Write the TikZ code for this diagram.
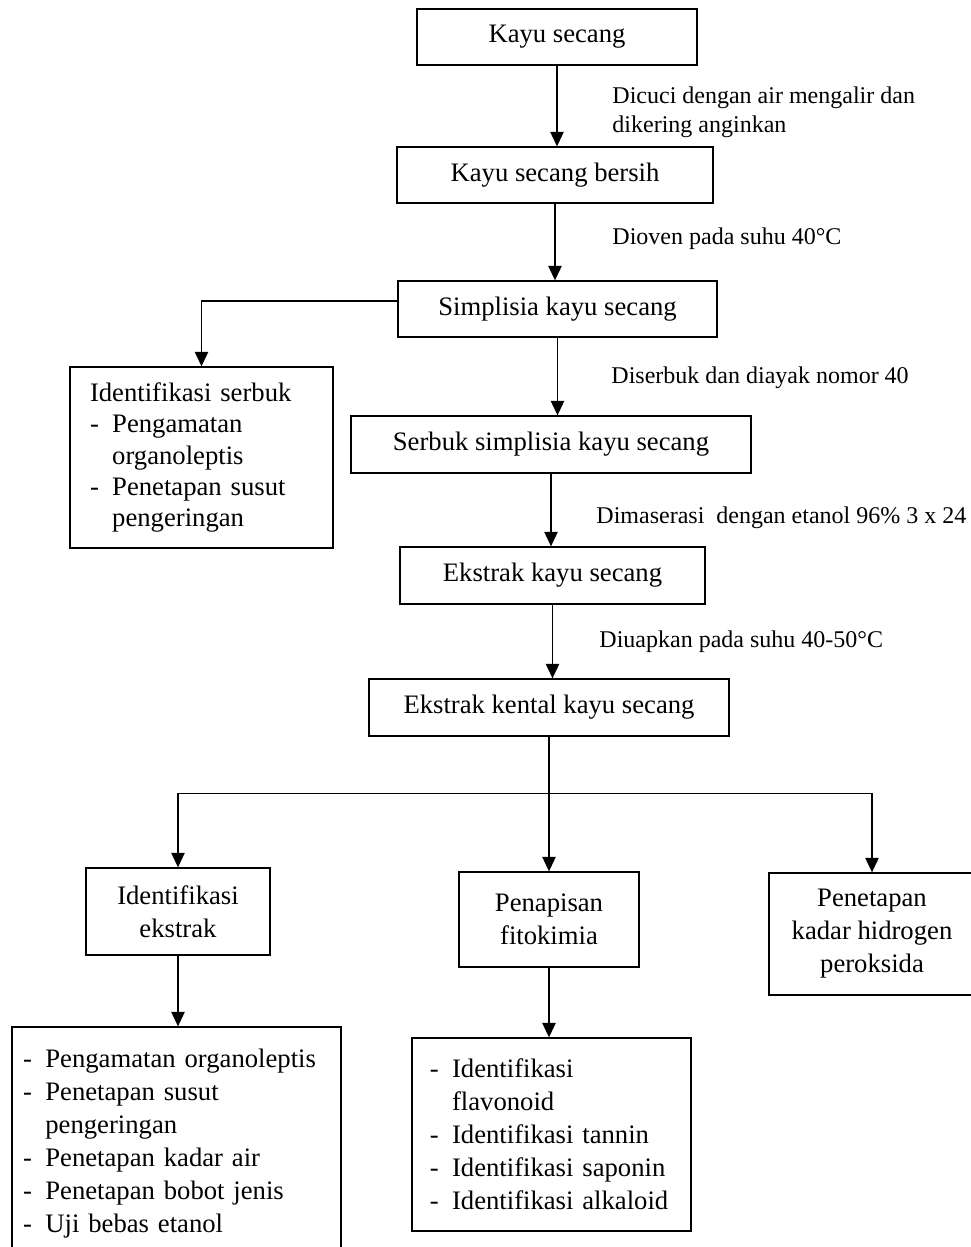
\documentclass[tikz,border=0pt]{standalone}
\usepackage{fontspec}
\setmainfont{Liberation Serif}
\usetikzlibrary{arrows.meta}
\def\dashitem#1{\makebox[10pt][l]{-}#1}
\def\dashcont#1{\hspace*{10pt}#1}

\begin{document}
\begin{tikzpicture}[x=0.45pt, y=-0.45pt,
		box/.style={draw, line width=0.6pt, align=center, inner sep=2pt, font=\fontsize{12}{14.85}\selectfont},
		listbox/.style={box, align=left},
		lbl/.style={anchor=west, align=left, inner sep=0pt, font=\fontsize{10.8}{13}\selectfont},
		link/.style={line width=0.6pt},
		arr/.style={link, -{Triangle[length=6.5pt, width=6pt]}}]
			%%%%% START %%%%%
			
			\useasboundingbox (0,0) rectangle (970,1247);
			
			\node[box, minimum width=126pt, minimum height=25.2pt] (kayu) at (557,37) {Kayu secang};
			\node[box, minimum width=142.2pt, minimum height=25.2pt] (bersih) at (555,175) {Kayu secang bersih};
			\node[box, minimum width=143.55pt, minimum height=25.2pt] (simplisia) at (557.5,309) {Simplisia kayu secang};
			\node[listbox, text width=100.35pt, inner xsep=9pt, minimum height=81.45pt, font=\fontsize{12}{14}\selectfont] (idserbuk) at (201.5,457.5) {Identifikasi serbuk\\ \dashitem{Pengamatan}\\ \dashcont{organoleptis}\\ \dashitem{Penetapan susut}\\ \dashcont{pengeringan}};
			\node[box, minimum width=180pt, minimum height=25.65pt] (serbuk) at (551,444.5) {Serbuk simplisia kayu secang};
			\node[box, minimum width=137.25pt, minimum height=25.65pt] (ekstrak) at (552.5,575.5) {Ekstrak kayu secang};
			\node[box, minimum width=162pt, minimum height=25.65pt] (kental) at (549,707.5) {Ekstrak kental kayu secang};
			
			\node[box, minimum width=82.8pt, minimum height=39.15pt] (idekstrak) at (178,911.5) {Identifikasi\\ekstrak};
			\node[box, minimum width=81pt, minimum height=42.75pt] (penapisan) at (549,919.5) {Penapisan\\fitokimia};
			\node[box, minimum width=92.7pt, minimum height=54.9pt] (penetapan) at (872,934) {Penetapan\\kadar hidrogen\\peroksida};
			
			\node[listbox, text width=138pt, inner xsep=5pt, minimum height=104.85pt] (ujiekstrak) at (176.5,1143.5) {\dashitem{Pengamatan organoleptis}\\ \dashitem{Penetapan susut}\\ \dashcont{pengeringan}\\ \dashitem{Penetapan kadar air}\\ \dashitem{Penetapan bobot jenis}\\ \dashitem{Uji bebas etanol}};
			\node[listbox, text width=109.5pt, inner xsep=8pt, minimum height=86.85pt] (ujifito) at (551.5,1134.5) {\dashitem{Identifikasi}\\ \dashcont{flavonoid}\\ \dashitem{Identifikasi tannin}\\ \dashitem{Identifikasi saponin}\\ \dashitem{Identifikasi alkaloid}};
			
			\node[lbl] (cuci) at (612,112) {Dicuci dengan air mengalir dan\\dikering anginkan};
			\node[lbl] (oven) at (612,239) {Dioven pada suhu 40°C};
			\node[lbl] (ayak) at (611,378) {Diserbuk dan diayak nomor 40};
			\node[lbl] (maserasi) at (596,518) {Dimaserasi\ \ dengan etanol 96\% 3 x 24};
			\node[lbl] (uap) at (599,642) {Diuapkan pada suhu 40-50°C};
			
			\draw[arr] (kayu) -- (kayu |- bersih.north);
			\draw[arr] (bersih) -- (bersih |- simplisia.north);
			\draw[arr] (simplisia) -- (simplisia |- serbuk.north);
			\draw[arr] (serbuk) -- (serbuk |- ekstrak.north);
			\draw[arr] (ekstrak) -- (ekstrak |- kental.north);
			\draw[arr] ([yshift=3.6pt]simplisia.west) -| (idserbuk);
			
			\path (kental.south) ++(0,57) coordinate (split);
			\draw[link] (kental) -- (split);
			\draw[arr] (split) -| (idekstrak);
			\draw[arr] (split) -| (penapisan);
			\draw[arr] (split) -| (penetapan);
			
			\draw[arr] (idekstrak) -- (idekstrak |- ujiekstrak.north);
			\draw[arr] (penapisan) -- (penapisan |- ujifito.north);
			
			%%%%% END %%%%%
		\end{tikzpicture}
\end{document}
